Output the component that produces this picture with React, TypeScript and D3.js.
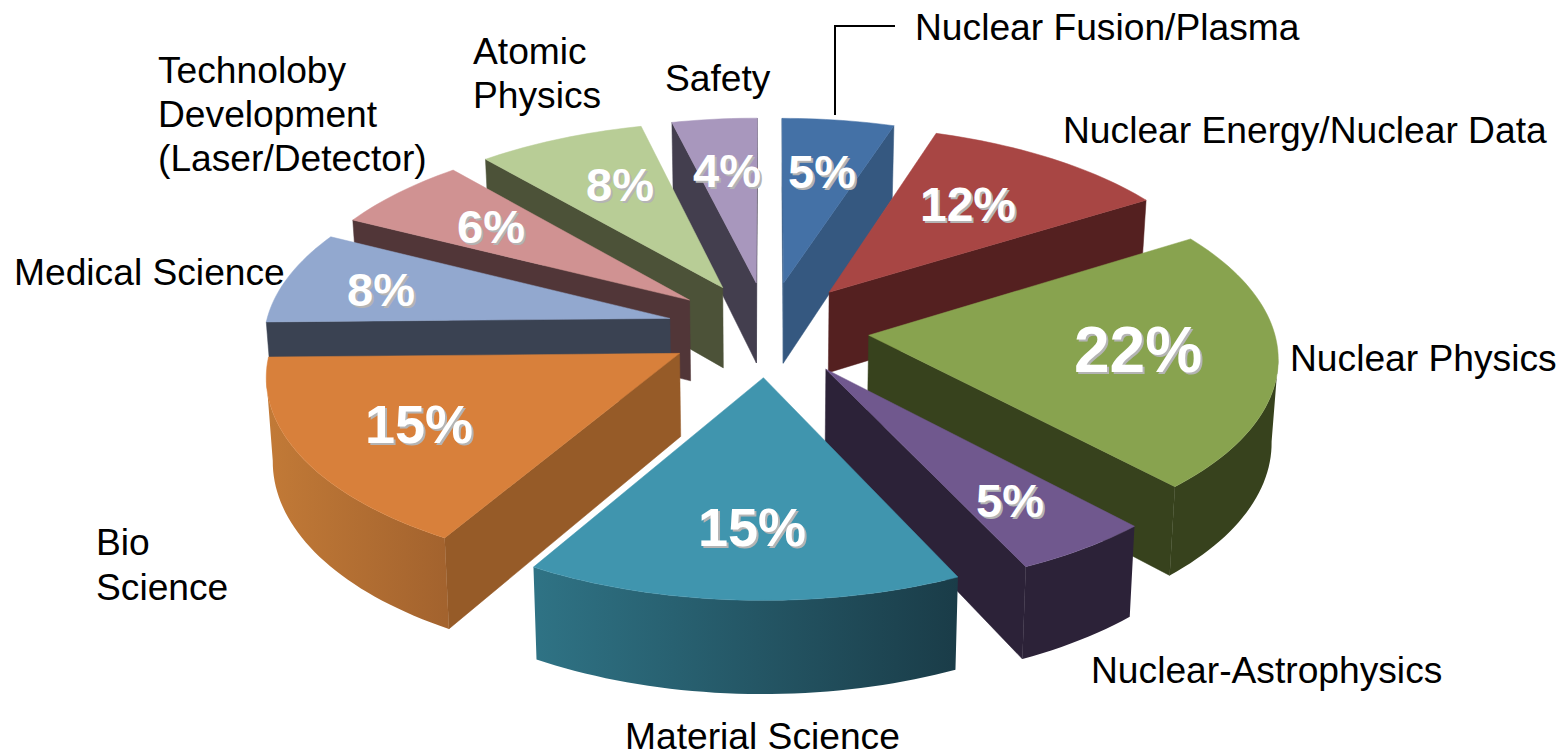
import * as d3 from "d3";

const names = ["Nuclear Fusion/Plasma", "Nuclear Energy/Nuclear Data", "Nuclear Physics", "Nuclear-Astrophysics", "Material Science", "Bio Science", "Medical Science", "Technology", "Atomic Physics", "Safety"];
// printed percentages
const shares = [5, 12, 22, 5, 15, 15, 8, 6, 8, 4];
// sector sizes as measured on the picture, they differ a little from the printed numbers
const sectors = [5, 11.1, 22, 4.9, 15.4, 16.3, 7.8, 6.2, 7.5, 3.8];
const topColors = ["#4471a6", "#a84644", "#88a34f", "#70588e", "#4095ae", "#d8803b", "#92a8cf", "#d09292", "#b8cd96", "#a897bd"];
const wallColors = ["#355880", "#542020", "#37421d", "#2c2238", "#1f4f5e", "#965b28", "#3a4252", "#513638", "#4c5238", "#433e4e"];
const rimFrom = ["#355880", "#542020", "#37421d", "#2c2238", "#2f7385", "#c27a37", "#3a4252", "#513638", "#4c5238", "#433e4e"];
const rimTo = ["#355880", "#542020", "#37421d", "#2c2238", "#1a3c48", "#a3632e", "#3a4252", "#513638", "#4c5238", "#433e4e"];

// percent label: centre x, baseline y, font size
const pctX = [822, 968, 1138, 1010, 752, 419, 381, 491, 620, 727];
const pctY = [188, 221, 372, 517, 546, 443, 306, 243, 201, 187];
const pctSize = [47, 48, 64, 47, 54, 54, 47, 47, 47, 47];

const captions: [string, number, number][] = [
  ["Nuclear Fusion/Plasma", 915, 40],
  ["Nuclear Energy/Nuclear Data", 1063, 143],
  ["Nuclear Physics", 1290, 371],
  ["Nuclear-Astrophysics", 1091, 683],
  ["Material Science", 625, 749],
  ["Bio", 96, 555],
  ["Science", 96, 600],
  ["Medical Science", 14, 285],
  ["Technoloby", 158, 83],
  ["Development", 158, 127],
  ["(Laser/Detector)", 158, 171],
  ["Atomic", 473, 64],
  ["Physics", 473, 108],
  ["Safety", 665, 91],
];

const width = 1565;
const height = 756;
const cx = 768;
const cy = 329;
const rx = 405;
const ry = 190;
const persp = 0.1;
const explode = 0.25;
const depth = 82;
const bottomShrink = 0.987;

type Pt = [number, number];

const project = (u: number, v: number): Pt => {
  const s = 1 / (1 + persp * v);
  return [cx + rx * u * s, cy - ry * v * s];
};

const drop = (u: number, v: number): Pt => {
  const s = 1 / (1 + persp * v);
  const [x, y] = project(u, v);
  return [cx + (x - cx) * bottomShrink, y + depth * s];
};

const line = d3.line<Pt>();

const arcs = d3.pie<number>().sort(null).value((d) => d)(sectors);

const slices = arcs.map((a) => {
  const i = a.index;
  const mid = (a.startAngle + a.endAngle) / 2;
  const ou = explode * Math.sin(mid);
  const ov = explode * Math.cos(mid);
  const n = Math.max(8, Math.round((a.endAngle - a.startAngle) * 40));
  const angles = d3.range(n + 1).map((k) => a.startAngle + ((a.endAngle - a.startAngle) * k) / n);
  const world: Pt[] = angles.map((t) => [ou + Math.sin(t), ov + Math.cos(t)]);
  const tip: Pt = [ou, ov];
  const topPts = world.map((w) => project(w[0], w[1]));
  const botPts = world.map((w) => drop(w[0], w[1]));
  const tipTop = project(tip[0], tip[1]);
  const tipBot = drop(tip[0], tip[1]);

  // clockwise on screen, so an edge running leftwards faces the viewer
  const walls: string[] = [];
  if (topPts[0][0] < tipTop[0]) walls.push(line([tipTop, topPts[0], botPts[0], tipBot])! + "Z");
  if (tipTop[0] < topPts[n][0]) walls.push(line([topPts[n], tipTop, tipBot, botPts[n]])! + "Z");

  const rimIdx = d3.range(n).filter((k) => topPts[k + 1][0] < topPts[k][0]);
  let rim: string | null = null;
  let rimX: [number, number] = [0, 1];
  if (rimIdx.length) {
    const from = rimIdx[0];
    const to = rimIdx[rimIdx.length - 1] + 1;
    const upper = topPts.slice(from, to + 1);
    const lower = botPts.slice(from, to + 1).reverse();
    rim = line([...upper, ...lower])! + "Z";
    rimX = [upper[upper.length - 1][0], upper[0][0]];
  }
  const top = line([tipTop, ...topPts])! + "Z";
  return { i, mid, walls, rim, rimX, top };
});

const ordered = [...slices].sort((a, b) => Math.cos(b.mid) - Math.cos(a.mid));

export default function App() {
  return (
    <svg
      width={width}
      height={height}
      viewBox={`0 0 ${width} ${height}`}
      style={{ position: "absolute", left: 0, top: 0, background: "#fff" }}
      fontFamily="'Liberation Sans', Arial, sans-serif"
    >
      <defs>
        {slices.map((s) => (
          <linearGradient key={s.i} id={`rim${s.i}`} gradientUnits="userSpaceOnUse" x1={s.rimX[0]} x2={s.rimX[1]} y1={0} y2={0}>
            <stop offset="0%" stopColor={rimFrom[s.i]} />
            <stop offset="100%" stopColor={rimTo[s.i]} />
          </linearGradient>
        ))}
      </defs>
      {ordered.map((s) => (
        <g key={names[s.i]}>
          {s.walls.map((d, k) => (
            <path key={k} d={d} fill={wallColors[s.i]} stroke={wallColors[s.i]} strokeWidth={0.5} />
          ))}
          {s.rim && <path d={s.rim} fill={`url(#rim${s.i})`} />}
          <path d={s.top} fill={topColors[s.i]} stroke={topColors[s.i]} strokeWidth={0.5} />
        </g>
      ))}
      <path d="M895,26H835V115" fill="none" stroke="#000" strokeWidth={2} />
      {shares.map((v, i) => (
        <g key={i} fontWeight="bold" fontSize={pctSize[i]} textAnchor="middle">
          <text x={pctX[i] + 2} y={pctY[i] + 2} fill="#b4b4b4">{`${v}%`}</text>
          <text x={pctX[i]} y={pctY[i]} fill="#fff">{`${v}%`}</text>
        </g>
      ))}
      {captions.map(([t, x, y]) => (
        <text key={t} x={x} y={y} fontSize={37.2} fill="#000">
          {t}
        </text>
      ))}
    </svg>
  );
}
